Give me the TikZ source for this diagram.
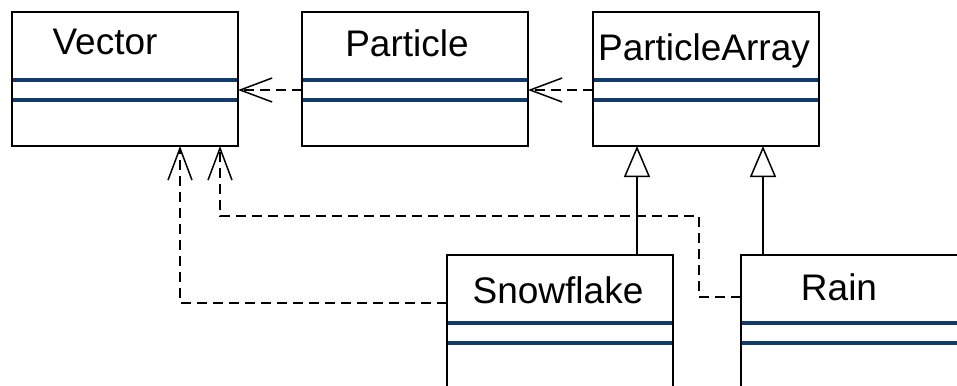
\documentclass[tikz,border=0pt]{standalone}
\usepackage{fontspec}
\setmainfont{Liberation Sans}
\usetikzlibrary{arrows.meta}
\definecolor{umlblue}{RGB}{18,58,108}
\tikzset{
  umlbox/.style={draw=black, line width=1.6pt, fill=white, minimum width=226pt, minimum height=134pt, anchor=north west, inner sep=0pt, outer sep=0pt},
  blueline/.style={draw=umlblue, line width=4.5pt},
  lbl/.style={font=\fontsize{37}{42}\selectfont, anchor=base, inner sep=0pt},
  dep/.style={draw=black, line width=1.5pt, dash pattern=on 10pt off 6pt, -{Straight Barb[length=32pt, width=24pt, line width=1.5pt]}},
  gen/.style={draw=black, line width=1.5pt, -{Triangle[open, length=31pt, width=26pt, line width=1.5pt, fill=white]}}
}
\begin{document}
\begin{tikzpicture}[x=1pt, y=-1pt]
\useasboundingbox (0,0) rectangle (957,385);
\clip (0,0) rectangle (957,385);
\fill[white] (0,0) rectangle (957,385);
% boxes
\node[umlbox] (vec) at (12,12) {};
\node[umlbox] (part) at (302,12) {};
\node[umlbox] (pa) at (593,12) {};
\node[umlbox] (snow) at (447,255) {};
\node[umlbox] (rain) at (741,255) {};
% compartment lines
\foreach \b in {vec,part,pa,snow,rain}{
  \draw[blueline] ([xshift=0.8pt,yshift=-68pt]\b.north west) -- ([xshift=-0.8pt,yshift=-68pt]\b.north east);
  \draw[blueline] ([xshift=0.8pt,yshift=-88pt]\b.north west) -- ([xshift=-0.8pt,yshift=-88pt]\b.north east);
}
% labels
\node[lbl] (vecT) at (105,55) {Vector};
\node[lbl] (partT) at (407,57) {Particle};
\node[lbl] (paT) at (704,61) {ParticleArray};
\node[lbl] (snowT) at (558,303) {Snowflake};
\node[lbl] (rainT) at (839,300) {Rain};
% dependencies
\draw[dep] ([yshift=-11pt]part.west) -- ([yshift=-11pt]vec.east);
\draw[dep] ([yshift=-11pt]pa.west) -- ([yshift=-11pt]part.east);
\draw[dep] ([yshift=19pt]snow.west) -| ([xshift=55pt]vec.south);
\coordinate (rbend) at (699,216);
\draw[dep] ([yshift=25pt]rain.west) -| (rbend) -| ([xshift=95pt]vec.south);
% generalizations
\draw[gen] ([xshift=77pt]snow.north) coordinate (s1) -- (s1 |- pa.south);
\draw[gen] ([xshift=-91pt]rain.north) coordinate (r1) -- (r1 |- pa.south);
\end{tikzpicture}
\end{document}
